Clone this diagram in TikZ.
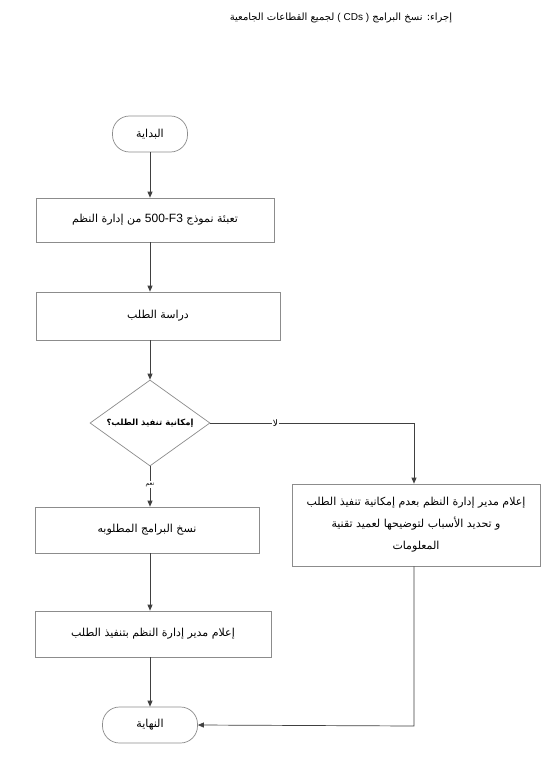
\documentclass[tikz,border=0pt]{standalone}
\usepackage{fontspec}
\TeXXeTstate=1
\setmainfont{Liberation Serif}
\newfontfamily\arabicfont[Script=Arabic]{DejaVu Sans}
\newfontfamily\latinsans{Liberation Sans}
\usetikzlibrary{shapes.geometric,arrows.meta}
\begin{document}
\begin{tikzpicture}[x=1pt,y=-1pt,
  every node/.style={font=\arabicfont\fontsize{11}{22}\selectfont, inner sep=2pt},
  boxst/.style={draw=black!45, line width=0.7pt, rectangle},
  termst/.style={draw=black!45, line width=0.7pt, rectangle, rounded corners=17pt},
  decst/.style={draw=black!45, line width=0.7pt, diamond, aspect=1.4, inner sep=0pt},
  arr/.style={draw=black!75, line width=0.7pt, -{Triangle[length=6pt,width=5pt]}},
  ln/.style={draw=black!75, line width=0.7pt},
  lbl/.style={fill=white, inner sep=1pt, font=\arabicfont\fontsize{9}{10}\selectfont}]
\useasboundingbox (0,0) rectangle (552,784);
\fill[white] (0,0) rectangle (552,784);
\node (title) at (341,18) {\fontsize{10}{12}\selectfont\beginR إجراء: نسخ البرامج {\latinsans\beginL( CDs )\endL} لجميع القطاعات الجامعية\endR};
\coordinate (col) at (150,0);
\node[termst, minimum width=75pt, minimum height=36pt] (start) at (150,134) {البداية};
\node[boxst, minimum width=238pt, minimum height=44pt] (b1) at (155,220) {\beginR تعبئة نموذج {\latinsans\fontsize{12}{14}\selectfont\beginL 500-F3\endL} من إدارة النظم\endR};
\node[boxst, minimum width=244pt, minimum height=48pt] (b2) at (158,316) {\beginR دراسة الطلب\endR};
\node[decst, minimum width=120pt, minimum height=86pt] (dec) at (150,423) {};
\node at (dec.center) {\bfseries\fontsize{8.5}{10}\selectfont\beginR إمكانية تنفيذ الطلب؟\endR};
\node[boxst, minimum width=248pt, minimum height=82pt, align=center] (rb) at (416,525) {\beginR إعلام مدير إدارة النظم بعدم إمكانية تنفيذ الطلب\endR\\ \beginR و تحديد الأسباب لتوضيحها لعميد تقنية\endR\\ \beginR المعلومات\endR};
\node[boxst, minimum width=224pt, minimum height=46pt] (b3) at (147,530) {\beginR نسخ البرامج المطلوبه\endR};
\node[boxst, minimum width=236pt, minimum height=46pt] (b4) at (153,634) {\beginR إعلام مدير إدارة النظم بتنفيذ الطلب\endR};
\node[termst, minimum width=95pt, minimum height=36pt] (end) at (150,725) {النهاية};
\coordinate (rc) at (414,423);
\coordinate (rd) at (414,726);
\draw[arr] (start.south) -- (start.south |- b1.north);
\draw[arr] (b1.south -| col) -- (b2.north -| col);
\draw[arr] (b2.south -| col) -- (dec.north);
\draw[ln] (dec.east) -- node[lbl, pos=0.32] (no) {لا} (rc);
\draw[arr] (rc) -- (rc |- rb.north);
\draw[arr] (dec.south) -- node[lbl, pos=0.45, font=\arabicfont\fontsize{6}{7}\selectfont] (yes) {نعم} (dec.south |- b3.north);
\draw[arr] (b3.south -| col) -- (b4.north -| col);
\draw[arr] (b4.south -| col) -- (end.north);
\draw[arr] (rb.south -| rc) -- (rd) -- (end.east);
\end{tikzpicture}
\end{document}
